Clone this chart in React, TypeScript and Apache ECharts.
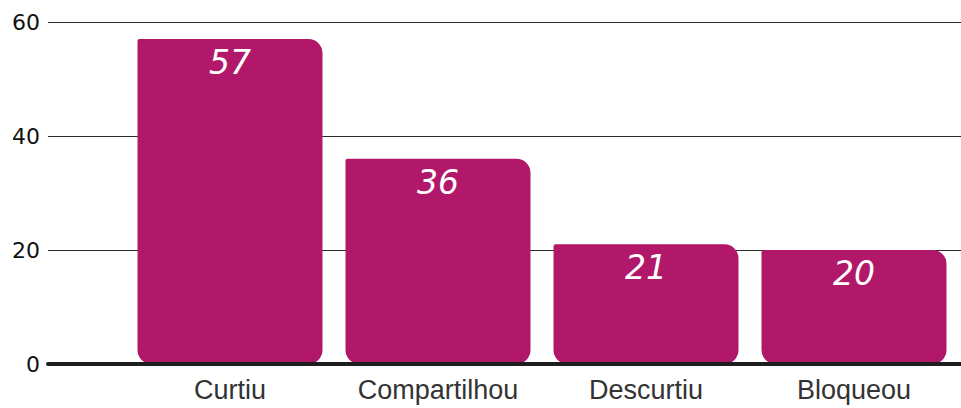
import React, { useEffect, useRef } from "react";
import * as echarts from "echarts";

const categories = ["Curtiu", "Compartilhou", "Descurtiu", "Bloqueou"];
const values = [57, 36, 21, 20];
const yTicks = { min: 0, max: 60, interval: 20 };

export default function App() {
  const ref = useRef<HTMLDivElement>(null);
  useEffect(() => {
    if (!ref.current) return;
    const chart = echarts.init(ref.current, null, { renderer: "svg" });
    chart.setOption({
      animation: false,
      backgroundColor: "#ffffff",
      grid: [
        { left: 126, right: 3, top: 22, bottom: 44 },
        { left: 48, right: 0, top: 22, bottom: 44 },
      ],
      xAxis: [
        {
          type: "category",
          gridIndex: 0,
          data: categories,
          axisLine: { show: false },
          axisTick: { show: false },
          axisLabel: {
            interval: 0,
            fontFamily: "Liberation Sans",
            fontSize: 27,
            color: "#333333",
            margin: 12,
          },
        },
        {
          type: "value",
          gridIndex: 1,
          min: 0,
          max: 1,
          z: 5,
          axisLine: { show: true, onZero: false, lineStyle: { color: "#1e1e1e", width: 4 } },
          axisTick: { show: false },
          axisLabel: { show: false },
          splitLine: { show: false },
        },
      ],
      yAxis: [
        {
          type: "value",
          gridIndex: 0,
          min: yTicks.min,
          max: yTicks.max,
          interval: yTicks.interval,
          show: false,
          splitLine: { show: false },
        },
        {
          type: "value",
          gridIndex: 1,
          min: yTicks.min,
          max: yTicks.max,
          interval: yTicks.interval,
          axisLine: { show: false },
          axisTick: { show: false },
          axisLabel: {
            fontFamily: "DejaVu Sans",
            fontSize: 22,
            color: "#111111",
            margin: 8,
          },
          splitLine: { show: true, lineStyle: { color: "#2a2a2a", width: 1 } },
        },
      ],
      series: [
        {
          type: "bar",
          xAxisIndex: 0,
          yAxisIndex: 0,
          data: values,
          barWidth: 185,
          itemStyle: { color: "#B2186A", borderRadius: [2, 14, 14, 14] },
          label: {
            show: true,
            position: "insideTop",
            distance: 7,
            color: "#ffffff",
            fontFamily: "DejaVu Sans",
            fontStyle: "italic",
            fontSize: 33,
          },
        },
      ],
    });
    return () => chart.dispose();
  }, []);
  return <div ref={ref} style={{ width: 961, height: 408, position: "absolute", left: 0, top: 0 }} />;
}
